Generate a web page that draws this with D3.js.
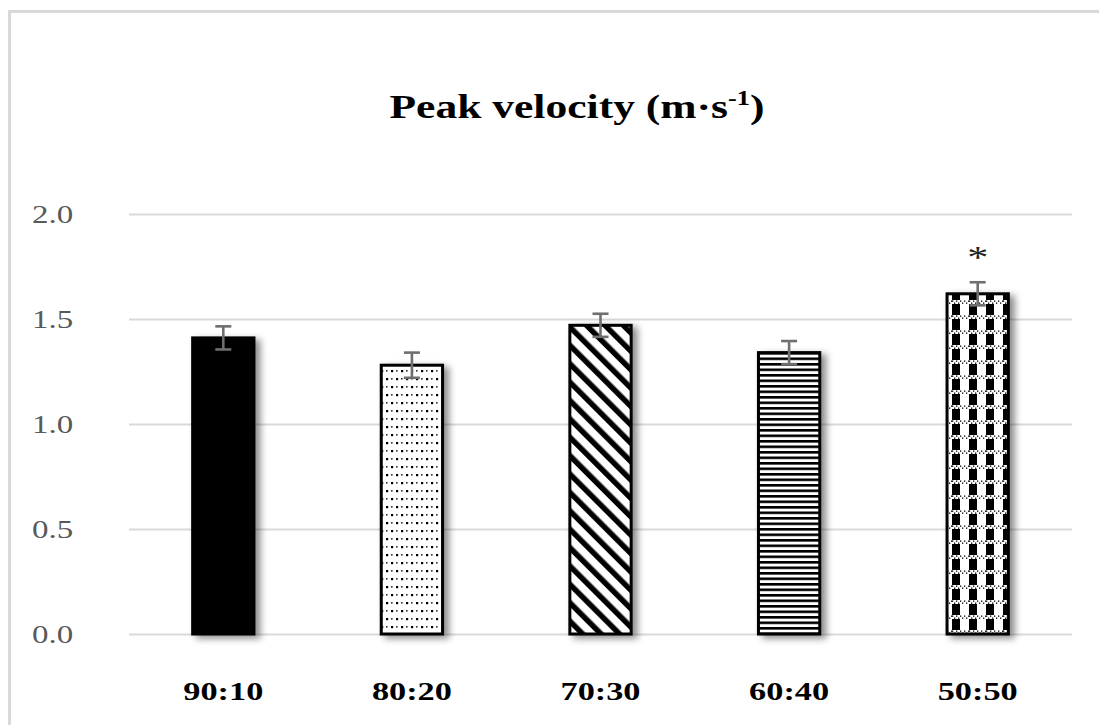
<!DOCTYPE html>
<html>
<head>
<meta charset="utf-8">
<script src="https://cdn.jsdelivr.net/npm/d3@7"></script>
<style>
  html, body { margin: 0; padding: 0; background: #fff; }
  svg { display: block; }
</style>
</head>
<body>
<svg id="chart" width="1099" height="725"></svg>
<script>
// Peak velocity per load ratio, mean and SD
const categories = ["90:10", "80:20", "70:30", "60:40", "50:50"];
const values = [1.41, 1.28, 1.47, 1.34, 1.62];
const errors = [0.055, 0.06, 0.055, 0.055, 0.055];
const significant = [false, false, false, false, true];
const yTicks = [0.0, 0.5, 1.0, 1.5, 2.0];
const patterns = ["solid", "dots", "diag", "hlines", "check"];

const svg = d3.select("#chart");
const W = 1099, H = 725;
const margin = { left: 129, right: 27, top: 214, bottom: 91 };
const sx = 1.32; // horizontal text stretch

// chart frame
svg.append("rect")
  .attr("x", 9.5).attr("y", 11.5)
  .attr("width", W + 20).attr("height", H + 20)
  .attr("fill", "#fff").attr("stroke", "#d9d9d9").attr("stroke-width", 3);

const defs = svg.append("defs");

// soft drop shadow under the bars
const f = defs.append("filter").attr("id", "shadow")
  .attr("x", "-30%").attr("y", "-10%").attr("width", "170%").attr("height", "130%");
f.append("feDropShadow").attr("dx", 5).attr("dy", 3).attr("stdDeviation", 3.5)
  .attr("flood-color", "#000").attr("flood-opacity", 0.45);

// fill patterns
const pDots = defs.append("pattern").attr("id", "p-dots")
  .attr("patternUnits", "userSpaceOnUse").attr("width", 10).attr("height", 16);
pDots.append("rect").attr("width", 10).attr("height", 16).attr("fill", "#fff");
pDots.append("rect").attr("x", 1).attr("y", 2).attr("width", 2.2).attr("height", 2.2).attr("fill", "#000");
pDots.append("rect").attr("x", 6).attr("y", 2).attr("width", 1.6).attr("height", 1.6).attr("fill", "#333");
pDots.append("rect").attr("x", 6).attr("y", 10).attr("width", 2.2).attr("height", 2.2).attr("fill", "#000");
pDots.append("rect").attr("x", 1).attr("y", 10).attr("width", 1.6).attr("height", 1.6).attr("fill", "#333");

const pDiag = defs.append("pattern").attr("id", "p-diag")
  .attr("patternUnits", "userSpaceOnUse").attr("width", 13).attr("height", 13)
  .attr("patternTransform", "rotate(-45)");
pDiag.append("rect").attr("width", 13).attr("height", 13).attr("fill", "#fff");
pDiag.append("rect").attr("x", 0).attr("y", 0).attr("width", 5.5).attr("height", 13).attr("fill", "#000");

const pH = defs.append("pattern").attr("id", "p-hlines")
  .attr("patternUnits", "userSpaceOnUse").attr("width", 10).attr("height", 5.5);
pH.append("rect").attr("width", 10).attr("height", 5.5).attr("fill", "#fff");
pH.append("rect").attr("y", 0).attr("width", 10).attr("height", 2.6).attr("fill", "#000");

const pC = defs.append("pattern").attr("id", "p-check")
  .attr("patternUnits", "userSpaceOnUse").attr("width", 17).attr("height", 15);
pC.append("rect").attr("width", 17).attr("height", 15).attr("fill", "#fff");
pC.append("rect").attr("x", 0).attr("width", 8).attr("height", 15).attr("fill", "#000");
pC.append("rect").attr("y", 0).attr("width", 17).attr("height", 4).attr("fill", "#fff");
for (let i = 0; i < 17; i += 2) {
  pC.append("rect").attr("x", i).attr("y", i % 4 === 0 ? 0.5 : 2.5).attr("width", 1.3).attr("height", 1.3).attr("fill", "#000");
}

const fillFor = p => p === "solid" ? "#000" : `url(#p-${p})`;

const x = d3.scaleBand().domain(categories)
  .range([margin.left, W - margin.right]).paddingInner(0.675).paddingOuter(0.3375);
const y = d3.scaleLinear().domain([0, 2]).range([H - margin.bottom, margin.top]);

// gridlines
svg.append("g").selectAll("line").data(yTicks).join("line")
  .attr("x1", margin.left).attr("x2", W - margin.right)
  .attr("y1", d => Math.round(y(d)) + 0.5).attr("y2", d => Math.round(y(d)) + 0.5)
  .attr("stroke", "#d9d9d9").attr("stroke-width", 2);

// y tick labels
svg.append("g").selectAll("text").data(yTicks).join("text")
  .attr("transform", d => `translate(32,${y(d)}) scale(${sx},1)`)
  .attr("dy", "0.36em")
  .attr("font-family", "'Liberation Serif', 'Times New Roman', serif")
  .attr("font-size", 25).attr("fill", "#595959")
  .text(d => d3.format(".1f")(d));

// bars
const bars = svg.append("g");
bars.selectAll("rect").data(categories).join("rect")
  .attr("x", d => x(d)).attr("width", x.bandwidth())
  .attr("y", (d, i) => y(values[i]))
  .attr("height", (d, i) => y(0) - y(values[i]))
  .attr("fill", (d, i) => fillFor(patterns[i]))
  .attr("stroke", "#000").attr("stroke-width", 3)
  .attr("filter", "url(#shadow)");

// error bars
const eb = svg.append("g").attr("stroke", "#6f6f6f").attr("stroke-width", 2.6);
categories.forEach((c, i) => {
  const cx = x(c) + x.bandwidth() / 2;
  const y1 = y(values[i] + errors[i]), y2 = y(values[i] - errors[i]);
  eb.append("line").attr("x1", cx).attr("x2", cx).attr("y1", y1).attr("y2", y2);
  eb.append("line").attr("x1", cx - 8).attr("x2", cx + 8).attr("y1", y1).attr("y2", y1);
  eb.append("line").attr("x1", cx - 8).attr("x2", cx + 8).attr("y1", y2).attr("y2", y2);
});

// significance marker
svg.append("g").selectAll("text").data(categories.filter((c, i) => significant[i])).join("text")
  .attr("transform", d => {
    const i = categories.indexOf(d);
    return `translate(${x(d) + x.bandwidth() / 2},${y(values[i] + errors[i]) - 14}) scale(${sx},1)`;
  })
  .attr("text-anchor", "middle")
  .attr("font-family", "'Liberation Serif', 'Times New Roman', serif")
  .attr("font-size", 32).attr("fill", "#222")
  .text("*");

// category labels
svg.append("g").selectAll("text").data(categories).join("text")
  .attr("transform", d => `translate(${x(d) + x.bandwidth() / 2},${700}) scale(${sx},1)`)
  .attr("text-anchor", "middle")
  .attr("font-family", "'Liberation Serif', 'Times New Roman', serif")
  .attr("font-weight", "bold").attr("font-size", 26).attr("fill", "#000")
  .text(d => d);

// title
const title = svg.append("text")
  .attr("transform", `translate(577,118) scale(${sx},1)`)
  .attr("text-anchor", "middle")
  .attr("font-family", "'Liberation Serif', 'Times New Roman', serif")
  .attr("font-weight", "bold").attr("font-size", 33).attr("fill", "#000");
title.append("tspan").text("Peak velocity (m·s");
title.append("tspan").attr("font-size", 20).attr("dy", -13).text("-1");
title.append("tspan").attr("dy", 13).text(")");
</script>
</body>
</html>
